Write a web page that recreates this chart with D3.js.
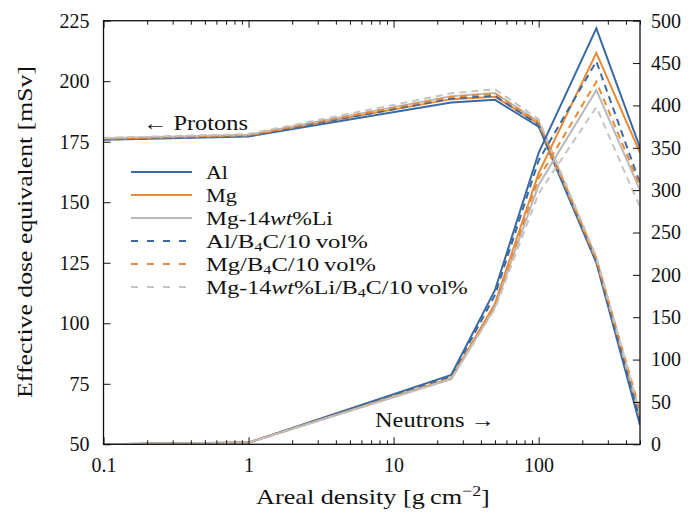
<!DOCTYPE html>
<html><head><meta charset="utf-8">
<script src="https://cdn.jsdelivr.net/npm/d3@7"></script>
<style>body{margin:0;background:#fff}text{font-family:"Liberation Serif","DejaVu Serif",serif;fill:#111}</style>
</head><body><svg id="c" width="698" height="515"></svg>
<script>
const density = [0.1, 1, 25, 50, 100, 250, 500];
const seriesNames = ["Al", "Mg", "Mg-14wt%Li", "Al/B4C/10 vol%", "Mg/B4C/10 vol%", "Mg-14wt%Li/B4C/10 vol%"];
// protons (left axis, mSv)
const protonsAl      = [175.8, 177.2, 191.2, 192.3, 181.2, 125.0, 58.0];
const protonsMg      = [176.1, 177.6, 192.6, 193.6, 182.5, 126.0, 61.0];
const protonsMgLi    = [176.4, 177.9, 193.8, 195.1, 183.3, 127.0, 62.0];
const protonsAlB     = [176.0, 177.5, 192.8, 194.0, 182.0, 125.5, 60.0];
const protonsMgB     = [176.3, 177.8, 193.5, 194.9, 183.0, 126.5, 64.0];
const protonsMgLiB   = [176.6, 178.2, 195.0, 196.7, 184.3, 127.5, 63.0];
// neutrons (right axis)
const neutronsAl     = [0, 2, 82, 182, 344, 491, 350];
const neutronsMg     = [0, 2, 78, 166, 320, 462, 344];
const neutronsMgLi   = [0, 2, 77, 162, 306, 418, 300];
const neutronsAlB    = [0, 2, 80, 176, 335, 452, 308];
const neutronsMgB    = [0, 2, 78, 164, 314, 428, 305];
const neutronsMgLiB  = [0, 2, 77, 160, 296, 398, 280];
const leftTicks = [50, 75, 100, 125, 150, 175, 200, 225];
const rightTicks = [0, 50, 100, 150, 200, 250, 300, 350, 400, 450, 500];
const xTicks = [0.1, 1, 10, 100];
const colors = ["#3a6aa3", "#ea8a35", "#b9b9b9", "#3a6aa3", "#ea8a35", "#c4c4c4"];
const dashed = [false, false, false, true, true, true];

const protons = [protonsAl, protonsMg, protonsMgLi, protonsAlB, protonsMgB, protonsMgLiB];
const neutrons = [neutronsAl, neutronsMg, neutronsMgLi, neutronsAlB, neutronsMgB, neutronsMgLiB];

const L = 103.5, R = 640, T = 20.7, B = 444.3;
const svg = d3.select("#c");
const x = d3.scaleLog().domain([0.1, 500]).range([L, R]);
const yL = d3.scaleLinear().domain([50, 225]).range([B, T]);
const yR = d3.scaleLinear().domain([0, 500]).range([B, T]);

svg.append("clipPath").attr("id", "cp").append("rect")
  .attr("x", L).attr("y", T).attr("width", R - L).attr("height", B - T);

const g = svg.append("g").attr("clip-path", "url(#cp)");
function draw(arrs, ys) {
  arrs.forEach((arr, i) => {
    const line = d3.line().x((d, j) => x(density[j])).y(d => ys(d));
    g.append("path").datum(arr).attr("d", line)
      .attr("fill", "none").attr("stroke", colors[i]).attr("stroke-width", 2)
      .attr("stroke-dasharray", dashed[i] ? "7,5" : null)
      .attr("stroke-linejoin", "miter");
  });
}
draw(protons, yL);
draw(neutrons, yR);

// axes
const minor = [];
for (let e = -1; e <= 2; e++) for (let k = 2; k <= 9; k++) { const v = k * Math.pow(10, e); if (v <= 500) minor.push(v); }
const axB = d3.axisBottom(x).tickValues(xTicks).tickFormat(d => d === 0.1 ? "0.1" : d3.format("d")(d)).tickSizeInner(-7).tickSizeOuter(0).tickPadding(14);
const axBm = d3.axisBottom(x).tickValues(minor).tickFormat("").tickSizeInner(-4).tickSizeOuter(0);
const axT = d3.axisTop(x).tickValues(xTicks).tickFormat("").tickSizeInner(-7).tickSizeOuter(0);
const axTm = d3.axisTop(x).tickValues(minor).tickFormat("").tickSizeInner(-4).tickSizeOuter(0);
const axL = d3.axisLeft(yL).tickValues(leftTicks).tickSizeInner(-7).tickSizeOuter(0).tickPadding(14);
const axR = d3.axisRight(yR).tickValues(rightTicks).tickSizeInner(-7).tickSizeOuter(0).tickPadding(11);

function style(sel) {
  sel.select(".domain").remove();
  sel.selectAll("line").attr("stroke", "#111").attr("stroke-width", 1);
  sel.selectAll("text").attr("font-size", 20).attr("fill", "#111")
    .style("font-family", '"Liberation Serif","DejaVu Serif",serif');
}
svg.append("g").attr("transform", `translate(0,${B})`).call(axB).call(style);
svg.append("g").attr("transform", `translate(0,${B})`).call(axBm).call(style);
svg.append("g").attr("transform", `translate(0,${T})`).call(axT).call(style);
svg.append("g").attr("transform", `translate(0,${T})`).call(axTm).call(style);
svg.append("g").attr("transform", `translate(${L},0)`).call(axL).call(style);
svg.append("g").attr("transform", `translate(${R},0)`).call(axR).call(style);

svg.append("rect").attr("x", L).attr("y", T).attr("width", R - L).attr("height", B - T)
  .attr("fill", "none").attr("stroke", "#111").attr("stroke-width", 1.3);

// horizontally scale a text so it occupies a given width
function fit(t, target, tx, ty, rot) {
  const w = t.node().getComputedTextLength();
  const s = target / w;
  t.attr("x", 0).attr("y", 0)
   .attr("transform", `translate(${tx},${ty})${rot ? " rotate(" + rot + ")" : ""} scale(${s},1)`);
}

// axis titles
const xt = svg.append("text").attr("font-size", 22)
  .html('Areal density [g\u2009cm<tspan dy="-8" font-size="15">\u22122</tspan><tspan dy="8">]</tspan>');
fit(xt, 234, 256, 504);
const yt = svg.append("text").attr("text-anchor", "middle").attr("font-size", 22)
  .text("Effective dose equivalent [mSv]");
fit(yt, 332, 32, 232, -90);

// annotations
const ap = svg.append("text").attr("font-size", 20).text("\u2190 Protons");
fit(ap, 105, 143, 130);
const an = svg.append("text").attr("font-size", 20).text("Neutrons \u2192");
fit(an, 120, 375, 427);

// legend
const legY0 = 172, legDy = 23;
const legWidths = [22, 31, 127, 162, 170, 262];
const legLabels = [
  [{t: "Al"}],
  [{t: "Mg"}],
  [{t: "Mg-14"}, {t: "wt", i: true}, {t: "%Li"}],
  [{t: "Al/B"}, {t: "4", s: true}, {t: "C/10\u2009vol%"}],
  [{t: "Mg/B"}, {t: "4", s: true}, {t: "C/10\u2009vol%"}],
  [{t: "Mg-14"}, {t: "wt", i: true}, {t: "%Li/B"}, {t: "4", s: true}, {t: "C/10\u2009vol%"}]
];
seriesNames.forEach((name, i) => {
  const yy = legY0 + i * legDy;
  svg.append("line").attr("x1", 131).attr("x2", 192).attr("y1", yy).attr("y2", yy)
    .attr("stroke", colors[i]).attr("stroke-width", 2).attr("stroke-dasharray", dashed[i] ? "7,9" : null);
  const t = svg.append("text").attr("font-size", 19.5);
  let sub = false;
  legLabels[i].forEach(p => {
    const ts = t.append("tspan").text(p.t);
    if (p.i) ts.attr("font-style", "italic");
    if (p.s) { ts.attr("font-size", 13).attr("dy", 3); sub = true; }
    else if (sub) { ts.attr("dy", -3); sub = false; }
  });
  fit(t, legWidths[i], 206, yy + 7);
});
</script></body></html>
